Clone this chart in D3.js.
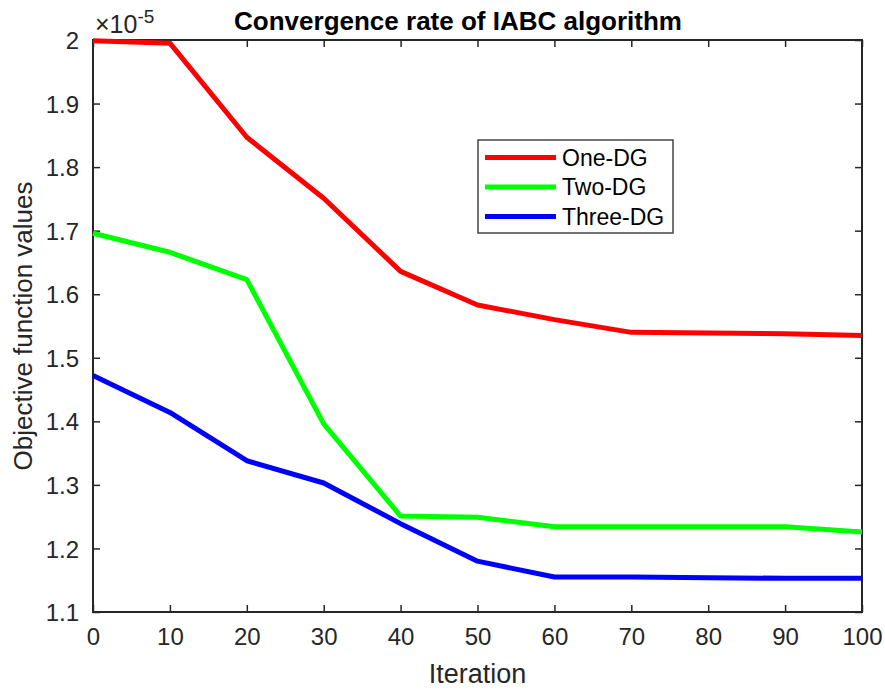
<!DOCTYPE html>
<html>
<head>
<meta charset="utf-8">
<script src="https://cdn.jsdelivr.net/npm/d3@7"></script>
<style>
  html, body { margin: 0; padding: 0; background: #fff; }
  svg { display: block; font-family: "Liberation Sans", Arial, sans-serif; }
</style>
</head>
<body>
<svg id="chart" width="885" height="691"></svg>
<script>
const iterations = [0, 10, 20, 30, 40, 50, 60, 70, 80, 90, 100];
const oneDG   = [1.999, 1.995, 1.847, 1.751, 1.636, 1.583, 1.560, 1.540, 1.539, 1.538, 1.535];
const twoDG   = [1.696, 1.666, 1.623, 1.396, 1.251, 1.249, 1.234, 1.234, 1.234, 1.234, 1.226];
const threeDG = [1.472, 1.414, 1.338, 1.303, 1.239, 1.180, 1.155, 1.155, 1.154, 1.153, 1.153];
const seriesNames = ["One-DG", "Two-DG", "Three-DG"];
const seriesColors = ["#ff0000", "#00ff00", "#0000ff"];
const xTicks = [0, 10, 20, 30, 40, 50, 60, 70, 80, 90, 100];
const yTicks = [1.1, 1.2, 1.3, 1.4, 1.5, 1.6, 1.7, 1.8, 1.9, 2.0];

const svg = d3.select("#chart");
const L = 93, R = 862, T = 40, B = 612;
const x = d3.scaleLinear().domain([0, 100]).range([L, R]);
const y = d3.scaleLinear().domain([1.1, 2.0]).range([B, T]);
const axisColor = "#262626";
const tickLen = 7;

// axes with inward ticks
const gx = svg.append("g").attr("transform", `translate(0,${B})`)
  .call(d3.axisBottom(x).tickValues(xTicks).tickSizeInner(-tickLen).tickSizeOuter(0).tickPadding(16).tickFormat(d3.format("d")));
const gy = svg.append("g").attr("transform", `translate(${L},0)`)
  .call(d3.axisLeft(y).tickValues(yTicks).tickSizeInner(-tickLen).tickSizeOuter(0).tickPadding(14).tickFormat(d => d === 2 ? "2" : d3.format(".1f")(d)));
const gxt = svg.append("g").attr("transform", `translate(0,${T})`)
  .call(d3.axisTop(x).tickValues(xTicks).tickSizeInner(-tickLen).tickSizeOuter(0).tickFormat(""));
const gyr = svg.append("g").attr("transform", `translate(${R},0)`)
  .call(d3.axisRight(y).tickValues(yTicks).tickSizeInner(-tickLen).tickSizeOuter(0).tickFormat(""));

[gx, gy, gxt, gyr].forEach(g => {
  g.select(".domain").remove();
  g.selectAll("line").attr("stroke", axisColor).attr("stroke-width", 1.5);
  g.selectAll("text").attr("fill", axisColor).style("font-size", "24px")
    .style("font-family", "'Liberation Sans', Arial, sans-serif");
});
gx.selectAll("text").attr("dy", "0.71em");
gy.selectAll("text").attr("dy", "0.36em");

// box
svg.append("rect").attr("x", L).attr("y", T).attr("width", R - L).attr("height", B - T)
  .attr("fill", "none").attr("stroke", axisColor).attr("stroke-width", 2);

// lines
const allSeries = [oneDG, twoDG, threeDG];
const line = d3.line().x((d, i) => x(iterations[i])).y(d => y(d));
const plot = svg.append("g");
allSeries.forEach((s, k) => {
  plot.append("path").datum(s).attr("d", line)
    .attr("fill", "none").attr("stroke", seriesColors[k]).attr("stroke-width", 5)
    .attr("stroke-linejoin", "round");
});

// exponent
const ex = svg.append("text").attr("x", 95).attr("y", 33).attr("fill", axisColor)
  .style("font-size", "25px");
ex.append("tspan").text("\u00d710");
ex.append("tspan").attr("dy", -10).style("font-size", "19px").text("-5");

// title
svg.append("text").attr("x", 458).attr("y", 30).attr("text-anchor", "middle")
  .style("font-size", "26px").style("font-weight", "bold").attr("fill", "#000")
  .text("Convergence rate of IABC algorithm");

// axis labels
svg.append("text").attr("x", (L + R) / 2).attr("y", 683).attr("text-anchor", "middle")
  .attr("fill", axisColor).style("font-size", "27px").text("Iteration");
svg.append("text").attr("transform", `translate(32,${(T + B) / 2}) rotate(-90)`)
  .attr("text-anchor", "middle").attr("fill", axisColor).style("font-size", "26px")
  .text("Objective function values");

// legend
const lg = svg.append("g");
lg.append("rect").attr("x", 478).attr("y", 140).attr("width", 195).attr("height", 93)
  .attr("fill", "#fff").attr("stroke", "#444").attr("stroke-width", 1.5);
seriesNames.forEach((n, i) => {
  const cy = 157.5 + i * 29.5;
  lg.append("line").attr("x1", 485).attr("x2", 556).attr("y1", cy).attr("y2", cy)
    .attr("stroke", seriesColors[i]).attr("stroke-width", 5);
  lg.append("text").attr("x", 562).attr("y", cy).attr("dy", "0.36em")
    .attr("fill", "#000").style("font-size", "23px").text(n);
});
</script>
</body>
</html>
